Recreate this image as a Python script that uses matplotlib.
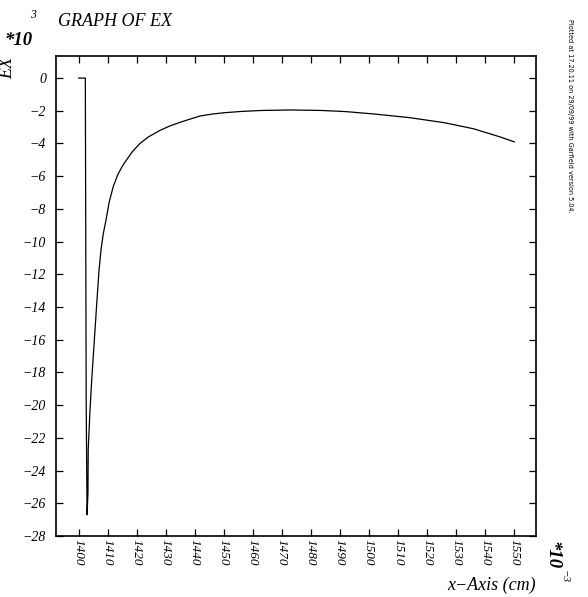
import numpy as np
import matplotlib
matplotlib.use("Agg")
import matplotlib.pyplot as plt

# EX field along the x-axis (x in cm, EX in units of 10^3)
x_cm = [1400, 1402.3, 1402.4, 1402.6, 1402.9, 1403.2, 1403.3, 1403.9, 1404.5,
        1405.3, 1406.3, 1407.0, 1407.7, 1408.5, 1409.4, 1410.5, 1411.9,
        1413.5, 1415, 1416.5, 1418.5, 1421.1, 1424, 1428, 1431.5, 1435,
        1438.5, 1441.8, 1446, 1450, 1456, 1463, 1473, 1483.7, 1492, 1502,
        1514, 1526, 1536, 1545, 1550]
ex = [0, 0, -6.6, -20.0, -26.7, -25.4, -22.7, -20.35, -18.46,
      -16.3, -13.6, -11.8, -10.5, -9.5, -8.7, -7.6, -6.64,
      -5.9, -5.4, -5.0, -4.5, -4.0, -3.6, -3.2, -2.92, -2.7,
      -2.5, -2.32, -2.2, -2.12, -2.04, -1.98, -1.95, -1.98, -2.05, -2.2,
      -2.42, -2.73, -3.1, -3.59, -3.9]
xticks = list(range(1400, 1551, 10))
yticks = list(range(0, -29, -2))

W, H = 588, 597
serif = "Liberation Serif"

fig = plt.figure(figsize=(W / 100, H / 100), dpi=100)
ax = fig.add_axes([56 / W, 1 - 536 / H, 480 / W, 480 / H])
ax.plot(x_cm, ex, color="black", lw=0.9)

ax.set_xlim(1392.2, 1557.5)
ax.set_ylim(-28.0, 1.35)
ax.set_xticks(xticks)
ax.set_yticks(yticks)
ax.set_xticklabels([str(t) for t in xticks], rotation=-90, family=serif,
                   style="italic", fontsize=9.5)
ax.set_yticklabels([str(t).replace("-", "\u2212") for t in yticks], family=serif,
                   style="italic", fontsize=10)
ax.tick_params(direction="in", length=5, width=0.9, top=True, right=True,
               color="black")
ax.tick_params(axis="y", pad=7)
ax.tick_params(axis="x", pad=2)
for s in ax.spines.values():
    s.set_linewidth(1.2)


def ftext(px, py, s, **kw):
    fig.text(px / W, 1 - py / H, s, family=serif, style="italic", **kw)


ftext(115, 26, "GRAPH OF EX", fontsize=13, ha="center", va="baseline")
ftext(4, 45, "*10", fontsize=13.5, weight="bold", ha="left", va="baseline")
ftext(33, 18, "3", fontsize=8.5, ha="center", va="baseline")
ftext(8, 68, "EX", fontsize=13, rotation=90, ha="center", va="center")
ftext(536, 590, "x\u2212Axis (cm)", fontsize=13, ha="right", va="baseline")
ftext(552, 555, "*10", fontsize=13.5, weight="bold", rotation=-90,
      ha="center", va="center")
ftext(564, 577, "\u22123", fontsize=8, rotation=-90, ha="center", va="center")
fig.text(570 / W, 1 - 116 / H,
         "Plotted at 17.20.11 on 29/09/99 with Garfield version 5.04.",
         fontsize=4.7, rotation=-90, ha="center", va="center")

fig.savefig("out.png", dpi=100)
